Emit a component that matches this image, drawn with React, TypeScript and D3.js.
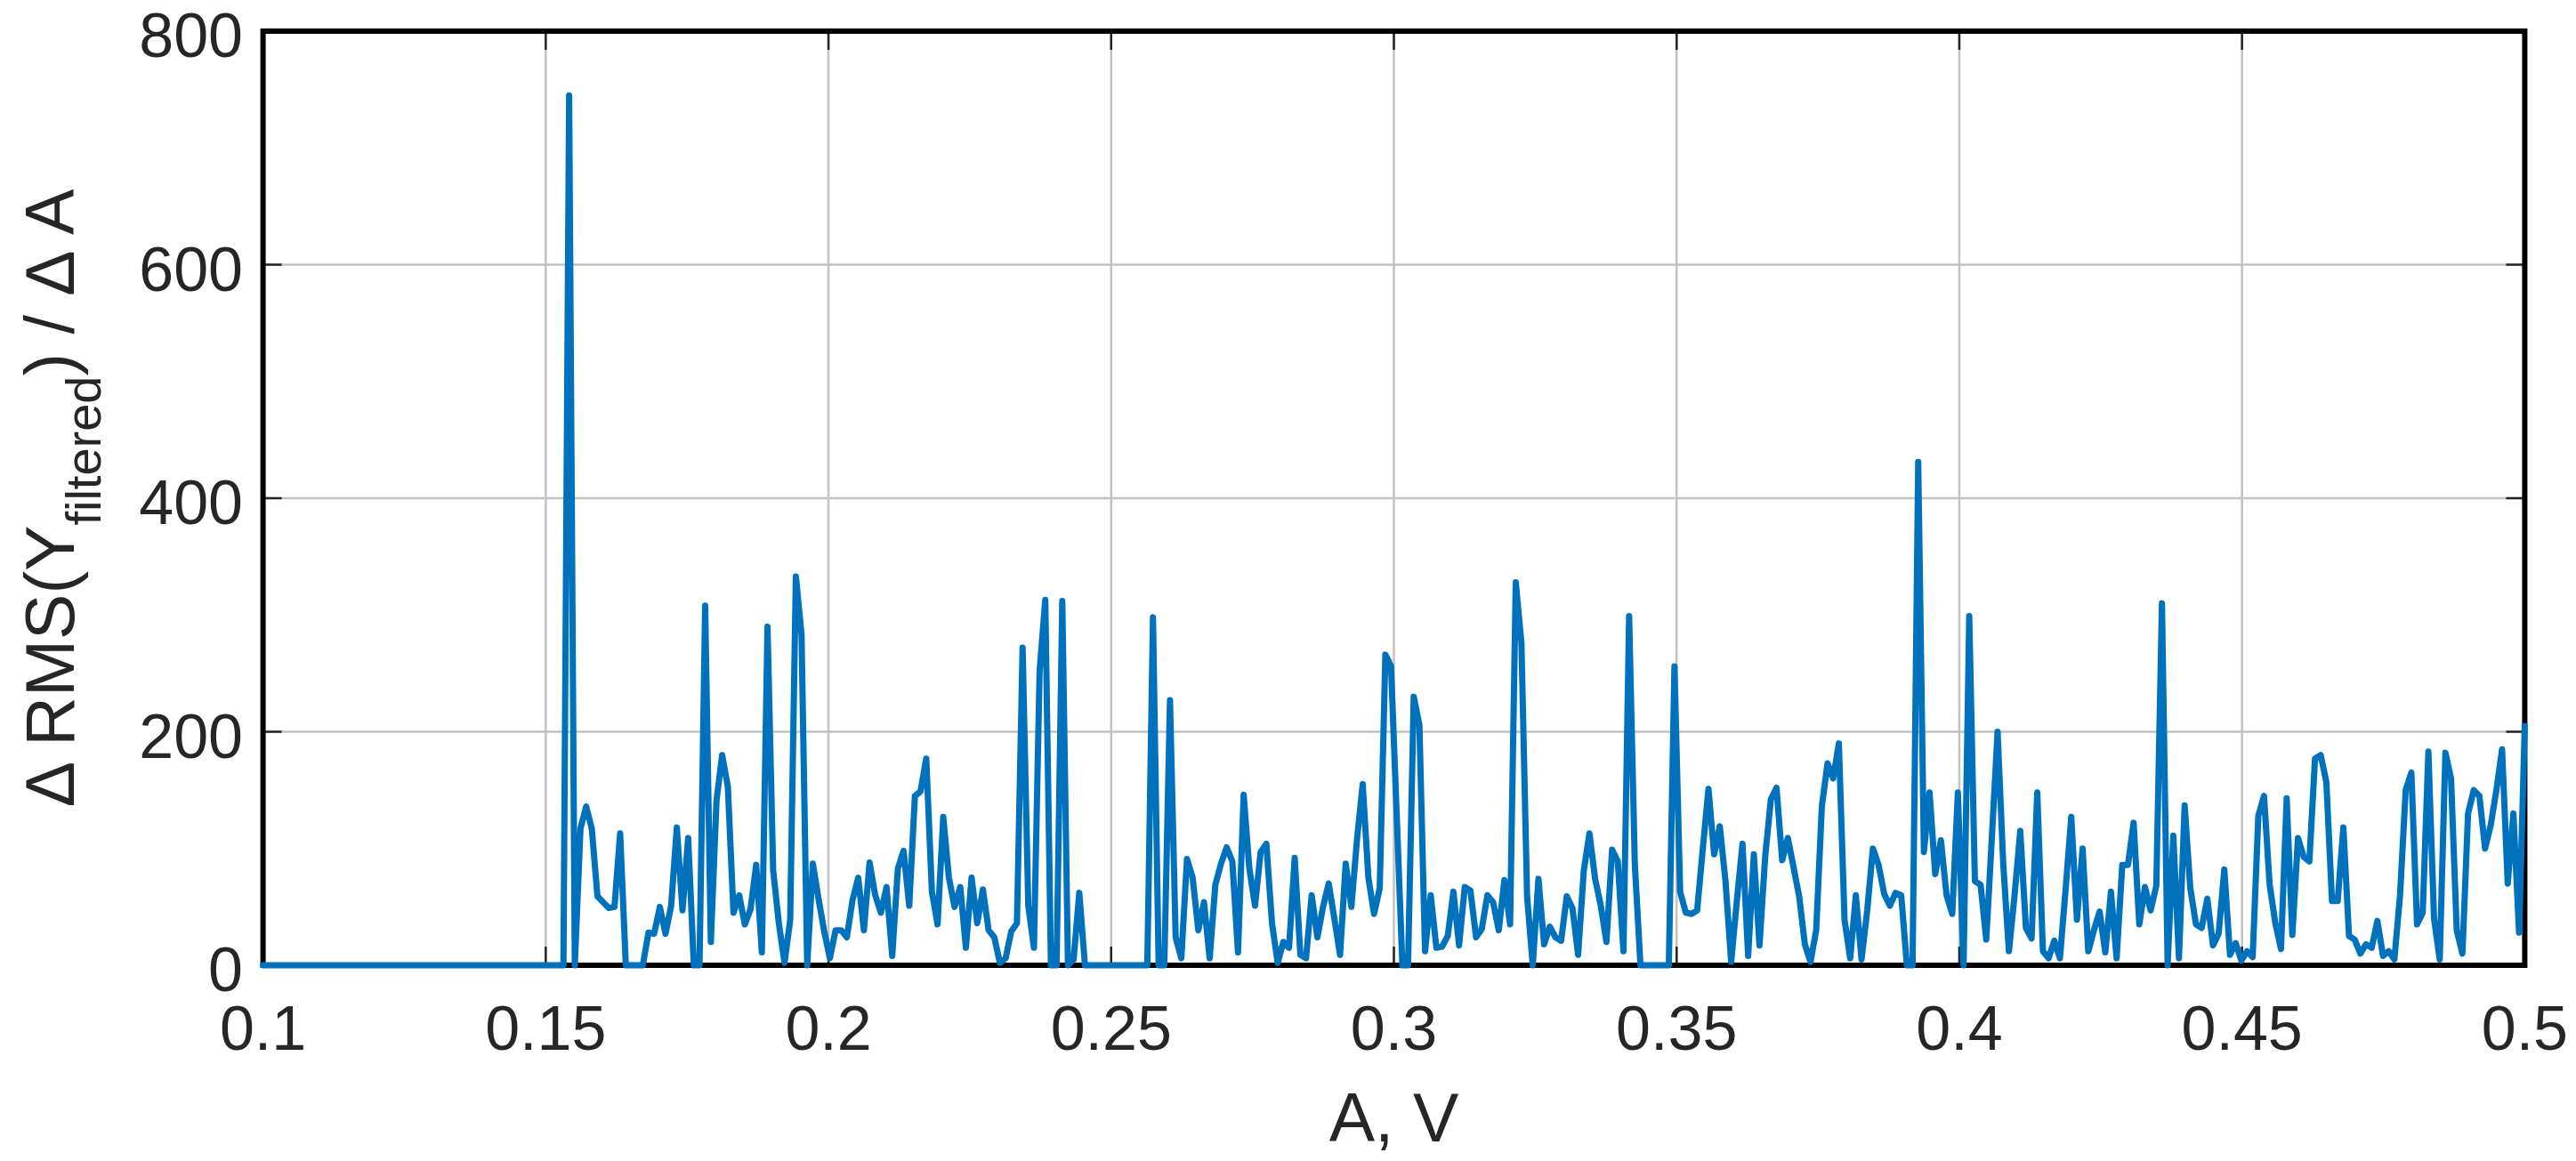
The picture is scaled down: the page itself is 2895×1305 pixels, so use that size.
import React from "react";
import * as d3 from "d3";

// ---- data ----
const A_START = 0.1;
const A_END = 0.5;
// ΔRMS(Y_filtered)/ΔA, one value per sample of A (400 samples from 0.1 to 0.5)
const dRms: number[] = [
  0, 0, 0, 0, 0, 0, 0, 0, 0, 0,
  0, 0, 0, 0, 0, 0, 0, 0, 0, 0,
  0, 0, 0, 0, 0, 0, 0, 0, 0, 0,
  0, 0, 0, 0, 0, 0, 0, 0, 0, 0,
  0, 0, 0, 0, 0, 0, 0, 0, 0, 0,
  0, 0, 0, 0, 745, 0, 117, 136, 117, 59,
  54, 49, 50, 113, 0, 0, 0, 0, 28, 27,
  50, 27, 51, 118, 47, 109, 0, 0, 308, 20,
  141, 180, 153, 45, 60, 35, 48, 86, 11, 290,
  81, 36, 2, 39, 333, 283, 0, 87, 57, 29,
  6, 30, 30, 24, 56, 75, 30, 88, 60, 45,
  67, 8, 83, 98, 51, 145, 149, 177, 63, 35,
  127, 75, 50, 67, 15, 75, 36, 65, 30, 24,
  2, 6, 29, 36, 272, 51, 15, 252, 313, 0,
  0, 312, 0, 5, 62, 0, 0, 0, 0, 0,
  0, 0, 0, 0, 0, 0, 0, 298, 0, 0,
  227, 24, 6, 91, 75, 30, 54, 6, 69, 87,
  101, 89, 11, 146, 83, 51, 97, 104, 36, 2,
  20, 15, 92, 9, 6, 60, 24, 50, 70, 40,
  9, 87, 50, 108, 155, 75, 44, 66, 266, 256,
  128, 0, 0, 230, 206, 12, 60, 15, 16, 25,
  63, 17, 67, 64, 24, 31, 60, 54, 30, 73,
  35, 328, 276, 59, 0, 74, 18, 33, 24, 21,
  59, 49, 9, 81, 113, 74, 51, 20, 99, 89,
  12, 299, 87, 0, 0, 0, 0, 0, 0, 256,
  63, 45, 44, 47, 100, 151, 95, 119, 72, 3,
  55, 104, 8, 95, 17, 93, 142, 152, 90, 109,
  84, 59, 18, 3, 30, 136, 173, 160, 190, 39,
  6, 60, 5, 47, 100, 86, 61, 51, 62, 60,
  0, 0, 431, 97, 148, 78, 107, 60, 44, 148,
  0, 299, 72, 69, 22, 110, 200, 87, 12, 60,
  115, 32, 23, 148, 12, 6, 21, 6, 65, 127,
  39, 100, 12, 30, 46, 11, 63, 6, 86, 86,
  122, 35, 67, 47, 68, 310, 0, 111, 6, 137,
  66, 35, 32, 57, 17, 27, 82, 9, 19, 4,
  12, 7, 128, 145, 69, 36, 14, 143, 26, 109,
  93, 89, 177, 180, 157, 55, 55, 118, 25, 22,
  10, 18, 15, 38, 8, 12, 5, 60, 150, 165,
  35, 45, 183, 40, 5, 182, 160, 30, 10, 130,
  150, 145, 100, 120, 150, 185, 70, 130, 28, 205,
];

const xTicks = [0.1, 0.15, 0.2, 0.25, 0.3, 0.35, 0.4, 0.45, 0.5];
const xTickLabels = ["0.1", "0.15", "0.2", "0.25", "0.3", "0.35", "0.4", "0.45", "0.5"];
const yTicks = [0, 200, 400, 600, 800];
const yTickLabels = ["0", "200", "400", "600", "800"];

const W = 2895;
const H = 1305;
const L = 295.6, R = 2837.4, T = 35, B = 1085;
const FONT = "'Liberation Sans', Arial, Helvetica, sans-serif";
const TEXT = "#262626";

export default function App() {
  const x = d3.scaleLinear().domain([A_START, A_END]).range([L, R]);
  const y = d3.scaleLinear().domain([0, 800]).range([B, T]);
  const idx = d3.scaleLinear().domain([0, dRms.length - 1]).range([A_START, A_END]);
  const pts: [number, number][] = dRms.map((v, i) => [idx(i), v]);
  const line = d3
    .line<[number, number]>()
    .x((d) => x(d[0]))
    .y((d) => y(d[1]));

  const tickLen = 21;

  return (
    <svg
      width={W}
      height={H}
      style={{ position: "absolute", left: 0, top: 0, background: "#fff" }}
      xmlns="http://www.w3.org/2000/svg"
    >
      <rect x={0} y={0} width={W} height={H} fill="#fff" />
      {/* grid */}
      {xTicks.slice(1, -1).map((t) => (
        <line key={"gx" + t} x1={x(t)} x2={x(t)} y1={T} y2={B} stroke="#c2c2c2" strokeWidth={2.5} />
      ))}
      {yTicks.slice(1, -1).map((t) => (
        <line key={"gy" + t} x1={L} x2={R} y1={y(t)} y2={y(t)} stroke="#c2c2c2" strokeWidth={2.5} />
      ))}
      {/* ticks */}
      {xTicks.map((t) => (
        <g key={"tx" + t}>
          <line x1={x(t)} x2={x(t)} y1={B} y2={B - tickLen} stroke={TEXT} strokeWidth={2.5} />
          <line x1={x(t)} x2={x(t)} y1={T} y2={T + tickLen} stroke={TEXT} strokeWidth={2.5} />
        </g>
      ))}
      {yTicks.map((t) => (
        <g key={"ty" + t}>
          <line x1={L} x2={L + tickLen} y1={y(t)} y2={y(t)} stroke={TEXT} strokeWidth={2.5} />
          <line x1={R} x2={R - tickLen} y1={y(t)} y2={y(t)} stroke={TEXT} strokeWidth={2.5} />
        </g>
      ))}
      {/* box */}
      <rect x={L} y={T} width={R - L} height={B - T} fill="none" stroke="#000" strokeWidth={6} />
      {/* data */}
      <path
        d={line(pts) || ""}
        fill="none"
        stroke="#0072BD"
        strokeWidth={7}
        strokeLinejoin="round"
        strokeLinecap="round"
      />
      {/* tick labels */}
      {xTicks.map((t, i) => (
        <text
          key={"lx" + t}
          x={x(t)}
          y={1180}
          textAnchor="middle"
          fontFamily={FONT}
          fontSize={70}
          fill={TEXT}
        >
          {xTickLabels[i]}
        </text>
      ))}
      {yTicks.map((t, i) => (
        <text
          key={"ly" + t}
          x={273}
          y={y(t) + 29}
          textAnchor="end"
          fontFamily={FONT}
          fontSize={70}
          fill={TEXT}
        >
          {yTickLabels[i]}
        </text>
      ))}
      {/* axis labels */}
      <text x={(L + R) / 2} y={1283} textAnchor="middle" fontFamily={FONT} fontSize={77} fill={TEXT}>
        A, V
      </text>
      <text
        transform={`translate(83, ${(T + B) / 2}) rotate(-90)`}
        textAnchor="middle"
        fontFamily={FONT}
        fontSize={77}
        fill={TEXT}
      >
        <tspan>Δ RMS(Y</tspan>
        <tspan fontSize={56} dy={30}>filtered</tspan>
        <tspan dy={-30}>) / Δ A</tspan>
      </text>
    </svg>
  );
}
